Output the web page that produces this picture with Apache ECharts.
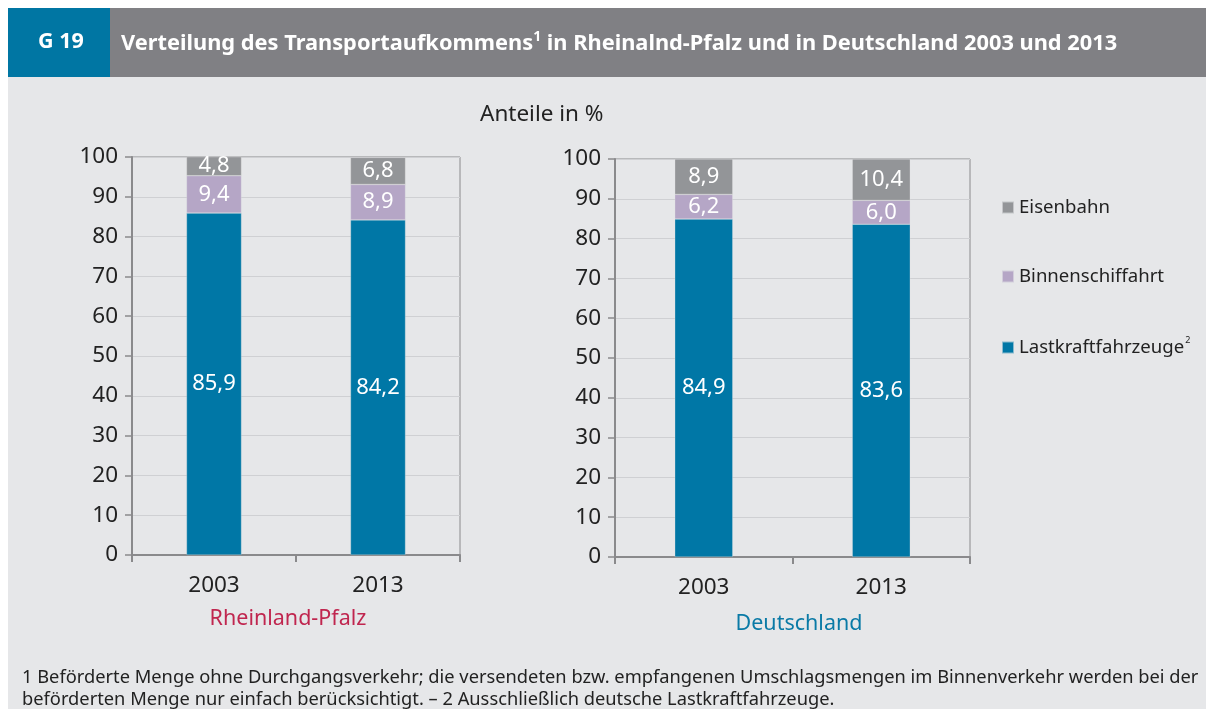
<!DOCTYPE html>
<html><head><meta charset="utf-8">
<script src="https://cdn.jsdelivr.net/npm/echarts@6/dist/echarts.min.js"></script>
<style>html,body{margin:0;padding:0;background:#fff;}#c{width:1214px;height:709px;}</style>
</head><body><div id="c"></div>
<script>
const categories = ['2003', '2013'];
const seriesNames = ['Lastkraftfahrzeuge', 'Binnenschiffahrt', 'Eisenbahn'];
const rlpLkw = [85.9, 84.2];
const rlpBinnen = [9.4, 8.9];
const rlpBahn = [4.8, 6.8];
const deLkw = [84.9, 83.6];
const deBinnen = [6.2, 6.0];
const deBahn = [8.9, 10.4];
const yTicks = [0, 10, 20, 30, 40, 50, 60, 70, 80, 90, 100];
const regionNames = ['Rheinland-Pfalz', 'Deutschland'];

const colors = {Lastkraftfahrzeuge: '#0077a6', Binnenschiffahrt: '#b5a6c6', Eisenbahn: '#939598'};
const FONT = 'Noto Sans';
const chart = echarts.init(document.getElementById('c'));

function fmt(p) { return p.value.toFixed(1).replace('.', ','); }

function xAxis(gi) {
  return {
    type: 'category', gridIndex: gi, data: categories,
    axisLine: {lineStyle: {color: '#8a8a8c', width: 2}},
    axisTick: {show: true, alignWithLabel: false, length: 7, lineStyle: {color: '#8a8a8c', width: 2}},
    axisLabel: {color: '#222', fontSize: 22.5, fontFamily: FONT, margin: 19}
  };
}
function yAxis(gi) {
  return {
    type: 'value', gridIndex: gi, min: 0, max: 100, interval: 10,
    axisLine: {show: true, lineStyle: {color: '#8a8a8c', width: 2}},
    axisTick: {show: true, length: 7, lineStyle: {color: '#8a8a8c', width: 1.5}},
    axisLabel: {color: '#222', fontSize: 22.5, fontFamily: FONT, margin: 14,
      formatter: v => yTicks.includes(v) ? String(v) : ''},
    splitLine: {lineStyle: {color: '#cfd0d3', width: 1}}
  };
}
function bar(name, data, gi, bw) {
  return {
    type: 'bar', name: name, stack: 's' + gi, xAxisIndex: gi, yAxisIndex: gi,
    data: data, barWidth: bw, itemStyle: {color: colors[name], borderColor: 'rgba(230,231,233,0.6)', borderWidth: 0.5},
    label: {show: true, position: 'inside', color: '#fff', fontSize: 22, fontFamily: FONT, formatter: fmt}
  };
}

chart.setOption({
  backgroundColor: '#fff',
  graphic: [
    {type: 'rect', shape: {x: 8, y: 77, width: 1198, height: 632}, style: {fill: '#e6e7e9'}, z: -10},
    {type: 'rect', shape: {x: 8, y: 8, width: 102, height: 69}, style: {fill: '#0076a3'}, z: -10},
    {type: 'rect', shape: {x: 110, y: 8, width: 1096, height: 69}, style: {fill: '#808084'}, z: -10},
    {type: 'text', x: 38, y: 31, style: {text: 'G 19', fill: '#fff', font: 'bold 21.5px "Noto Sans"'}},
    {type: 'text', x: 121, y: 30, style: {
      text: '{t|Verteilung des Transportaufkommens}{s|1}{t| in Rheinalnd-Pfalz und in Deutschland 2003 und 2013}',
      rich: {t: {fill: '#fff', fontSize: 21.8, fontWeight: 'bold', fontFamily: FONT, height: 28},
             s: {fill: '#fff', fontSize: 14, fontWeight: 'bold', fontFamily: FONT, verticalAlign: 'top', padding: [0,0,10,0]}}}},
    {type: 'text', x: 480, y: 103, style: {text: 'Anteile in %', fill: '#222', font: '22.5px "Noto Sans"'}},
    {type: 'text', x: 288, y: 608, style: {text: regionNames[0], fill: '#c0264f', font: '21.5px "Noto Sans"', textAlign: 'center'}},
    {type: 'text', x: 799, y: 613, style: {text: regionNames[1], fill: '#0a7aa6', font: '21.5px "Noto Sans"', textAlign: 'center'}},
    {type: 'text', x: 22, y: 667, style: {
      text: '1 Beförderte Menge ohne Durchgangsverkehr; die versendeten bzw. empfangenen Umschlagsmengen im Binnenverkehr werden bei der\nbeförderten Menge nur einfach berücksichtigt. – 2 Ausschließlich deutsche Lastkraftfahrzeuge.',
      fill: '#222', font: '18.3px "Noto Sans"', lineHeight: 22}}
  ],
  legend: {
    orient: 'vertical', left: 996, top: 193, itemGap: 50, itemWidth: 12, itemHeight: 12,
    icon: 'rect', data: ['Eisenbahn', 'Binnenschiffahrt', 'Lastkraftfahrzeuge'],
    textStyle: {color: '#222', fontSize: 18.6, fontFamily: FONT,
      rich: {a: {fontSize: 18.6, fontFamily: FONT, color: '#222'}, s: {fontSize: 9, fontFamily: FONT, color: '#222', verticalAlign: 'top', padding: [0,0,14,1]}}},
    formatter: n => n === 'Lastkraftfahrzeuge' ? '{a|' + n + '}{s|2}' : n
  },
  grid: [
    {left: 132, right: 754, top: 157, bottom: 154, show: true, borderColor: '#8a8a8c', borderWidth: 1},
    {left: 615, right: 244, top: 159, bottom: 152, show: true, borderColor: '#8a8a8c', borderWidth: 1}
  ],
  xAxis: [xAxis(0), xAxis(1)],
  yAxis: [yAxis(0), yAxis(1)],
  series: [
    bar('Lastkraftfahrzeuge', rlpLkw, 0, 55),
    bar('Binnenschiffahrt', rlpBinnen, 0, 55),
    bar('Eisenbahn', rlpBahn, 0, 55),
    bar('Lastkraftfahrzeuge', deLkw, 1, 58),
    bar('Binnenschiffahrt', deBinnen, 1, 58),
    bar('Eisenbahn', deBahn, 1, 58)
  ]
});
</script></body></html>
